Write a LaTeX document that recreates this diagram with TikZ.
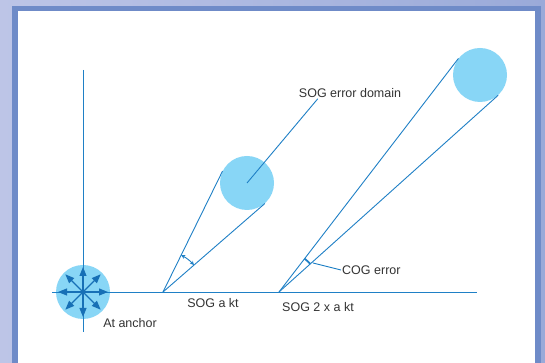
\documentclass[tikz,border=0pt]{standalone}
\usepackage{fontspec}
\setmainfont{Liberation Sans}
\usetikzlibrary{arrows.meta, positioning, calc}

\definecolor{paneleft}{HTML}{BDC5E7}
\definecolor{paneright}{HTML}{9AAAD9}
\definecolor{framebl}{HTML}{6F8BC8}
\definecolor{lineblue}{HTML}{1F80C6}
\definecolor{arrowblue}{HTML}{1770B6}
\definecolor{skyblue}{HTML}{88D6F6}
\definecolor{txtgray}{HTML}{333333}

\begin{document}
\begin{tikzpicture}[
  x=1pt, y=1pt,
  errzone/.style={circle, fill=skyblue, minimum size=54pt, inner sep=0pt},
  ray/.style={draw=lineblue, line width=0.9pt},
  spoke/.style={draw=arrowblue, line width=1.1pt, -{Triangle[length=9pt,width=7pt]}},
  lbl/.style={text=txtgray, font=\fontsize{12.5}{15}\selectfont, inner sep=1pt}
]

% panel and frame
\shade[left color=paneleft, right color=paneright] (0,0) rectangle (545,363);
\fill[framebl] (12.3,0) rectangle (540.7,357.3);
\fill[white] (17.7,0) rectangle (535,352);
\useasboundingbox (0,0) rectangle (545,363);

% anchor and the two error domains
\node[errzone] (anchorzone) at (83,71) {};
\node[errzone] (dom1) at (247,180) {};
\node[errzone] (dom2) at (480,288) {};
\coordinate (apex1) at (163,71);
\coordinate (apex2) at (279,71);

% axes
\draw[ray] (83.5,293) -- (83.5,31);
\draw[ray] (52,71) -- (477,71);

\foreach \a in {0,45,...,315}
  \draw[spoke] (anchorzone.center) -- ++(\a:25);

% cones of course
\draw[ray] (apex1) -- (tangent cs:node=dom1,point={(apex1)},solution=1);
\draw[ray] (apex1) -- (tangent cs:node=dom1,point={(apex1)},solution=2);
\draw[ray] (apex2) -- (tangent cs:node=dom2,point={(apex2)},solution=1);
\draw[ray] (apex2) -- (tangent cs:node=dom2,point={(apex2)},solution=2);

% error marks
\draw[ray, {Stealth[length=4pt,width=4pt]}-{Stealth[length=4pt,width=4pt]}]
  ([shift={(41.1:41)}]apex1) arc[start angle=41.1, end angle=63.7, radius=41];
\draw[draw=lineblue, line width=1.8pt]
  ([shift={(42:42)}]apex2) arc[start angle=42, end angle=52.4, radius=42];
\coordinate (cogmark) at (313,100);

% labels
\node[lbl] (doml) at (350,270) {SOG error domain};
\node[lbl] (anchl) at (130,40) {At anchor};
\node[lbl] (sog1) at (213,60) {SOG a kt};
\node[lbl] (sog2) at (318,56) {SOG 2 x a kt};
\node[lbl, anchor=west] (cogl) at (341,93) {COG error};

\draw[ray] (dom1.center) -- ([xshift=20pt]doml.south west);
\draw[ray] (cogmark) -- (cogl.west);

\end{tikzpicture}
\end{document}
